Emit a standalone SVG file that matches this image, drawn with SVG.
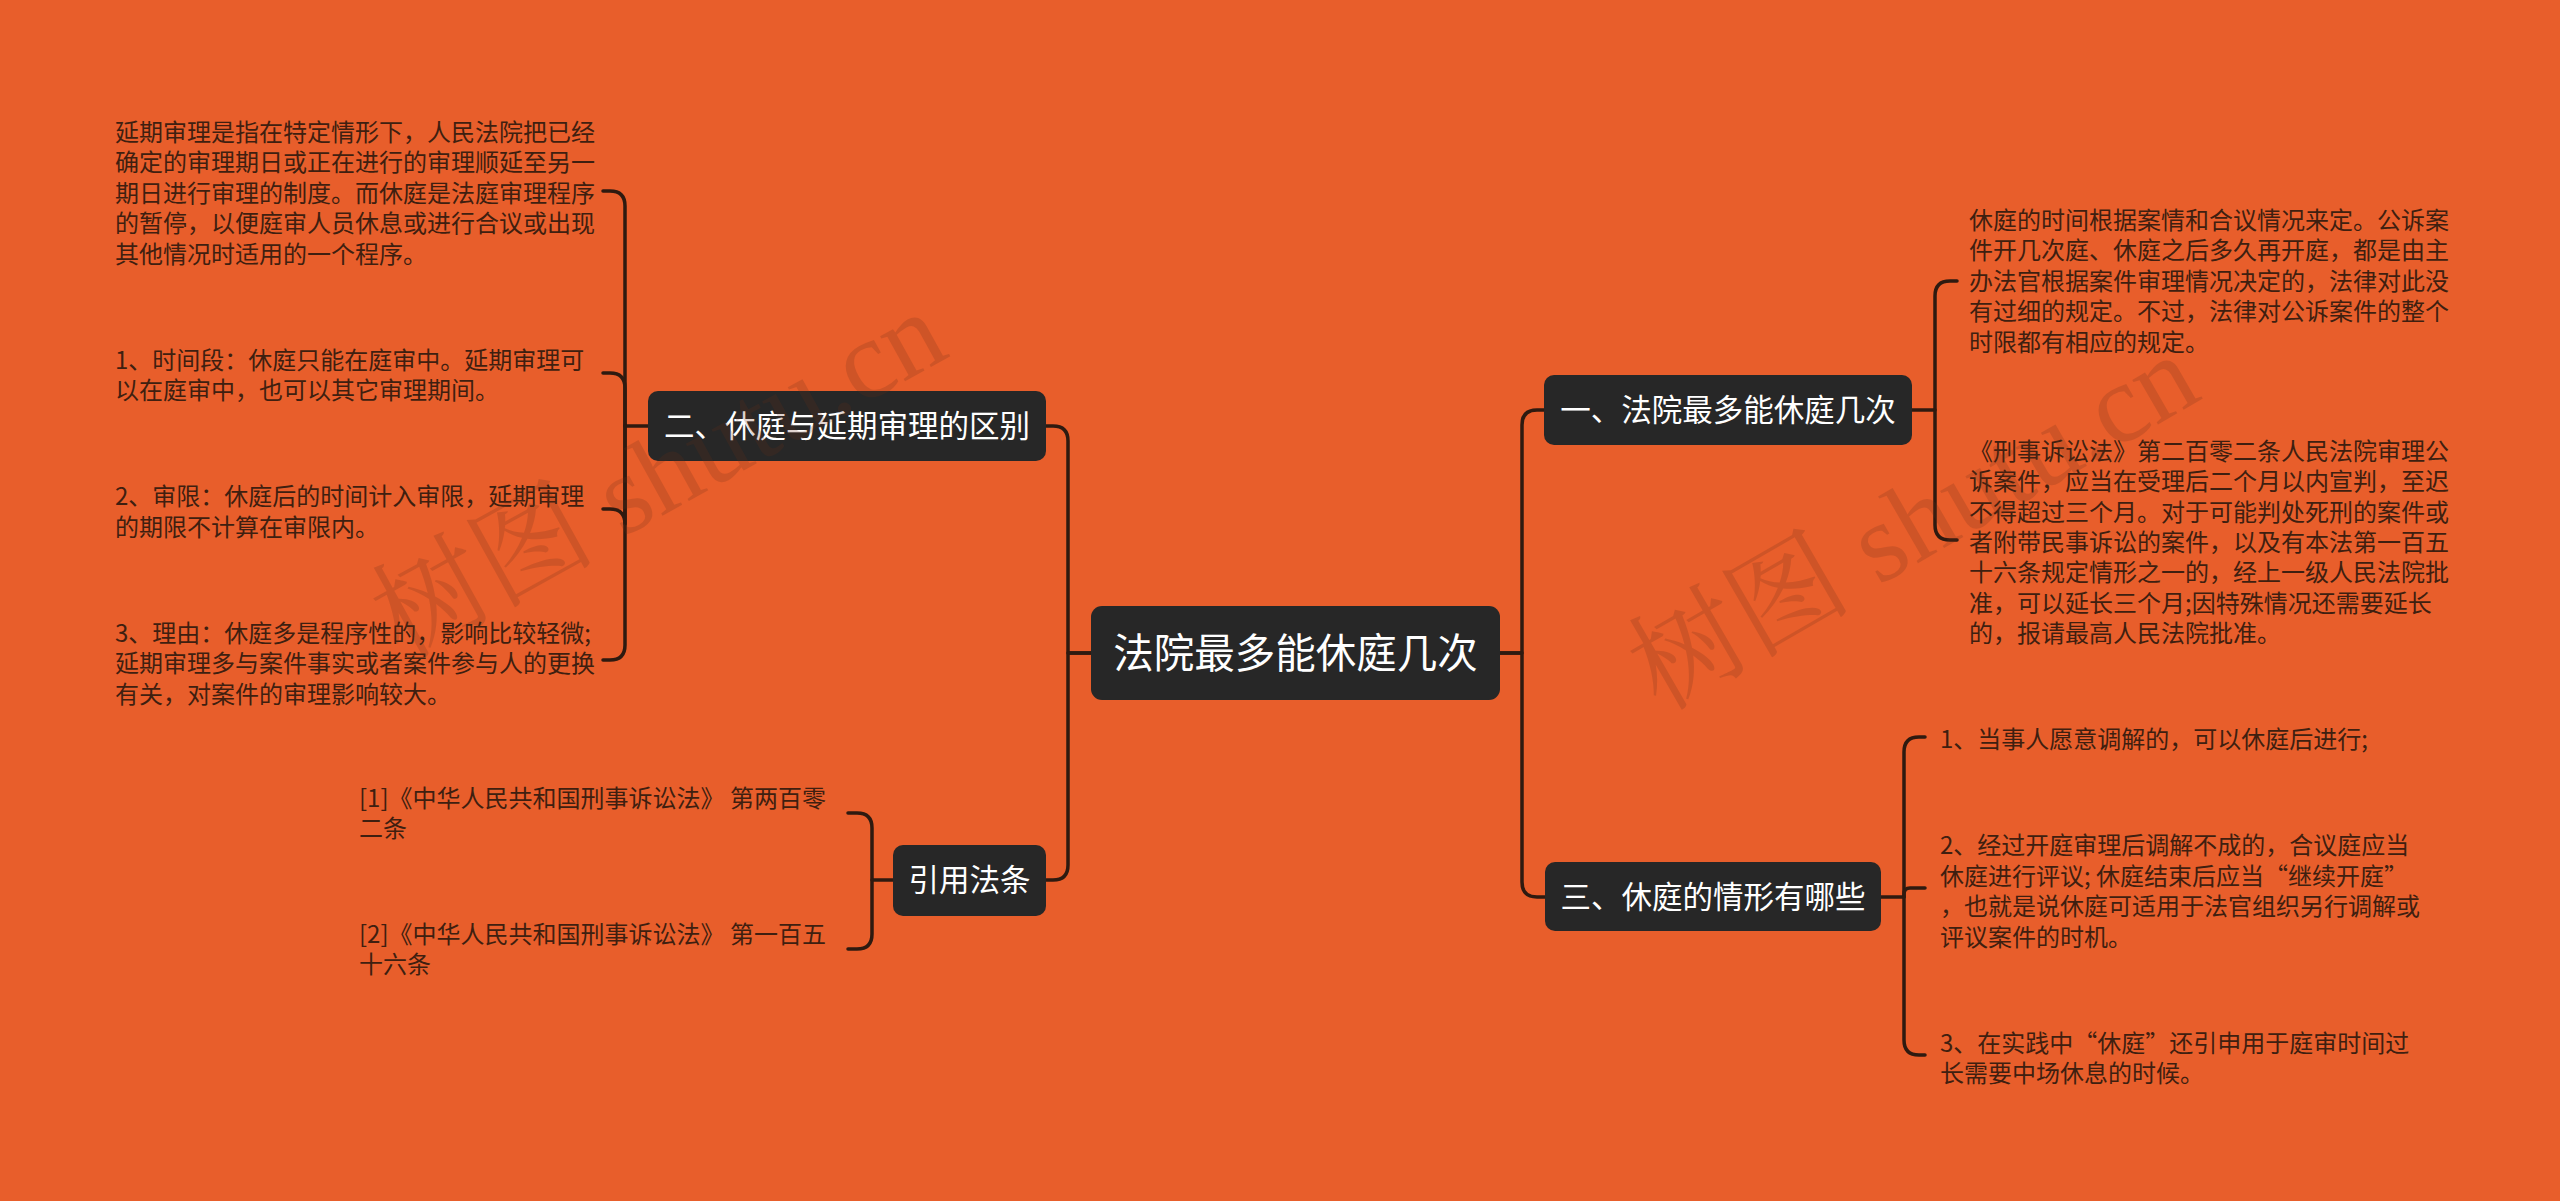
<svg xmlns="http://www.w3.org/2000/svg" width="2560" height="1201" viewBox="0 0 2560 1201">
<style>
.bg{fill:#E85E2B}
.box{fill:#272727}
.nt{fill:#ffffff;font-family:"Noto Sans CJK SC","Noto Sans",sans-serif;text-anchor:middle}
.sub{font-size:30.5px}
.main{font-size:40.5px}
.leaf{fill:#3f1f10;font-family:"Noto Sans CJK SC","Noto Sans",sans-serif;font-size:24px}
.con{fill:none;stroke:#2e1a10;stroke-width:3.5;stroke-linecap:round;stroke-linejoin:round}
.wm{fill:#6a2e18;opacity:0.2;font-family:"Liberation Serif","Noto Serif CJK SC","Noto Sans CJK SC",serif;font-size:112px}
</style>
<rect class="bg" x="0" y="0" width="2560" height="1201"/>

<g id="connectors">
<path class="con" d="M1091 653 H1068 V441 Q1068 426 1053 426 H1046"/>
<path class="con" d="M1091 653 H1068 V865 Q1068 880 1053 880 H1046"/>
<path class="con" d="M1500 653 H1522 V425 Q1522 410 1537 410 H1544"/>
<path class="con" d="M1500 653 H1522 V882 Q1522 897 1537 897 H1545"/>
<path class="con" d="M1912 410 H1935 V296 Q1935 281 1950 281 H1957"/>
<path class="con" d="M1935 410 V525 Q1935 540 1950 540 H1957"/>
<path class="con" d="M1881 897 H1904 V752 Q1904 737 1919 737 H1925"/>
<path class="con" d="M1904 897 V894 Q1904 888 1910 888 H1925"/>
<path class="con" d="M1904 897 V1040 Q1904 1055 1919 1055 H1925"/>
<path class="con" d="M648 426 H625 V206 Q625 191 610 191 H603"/>
<path class="con" d="M625 426 V388 Q625 373 610 373 H603"/>
<path class="con" d="M625 426 V524 Q625 509 610 509 H603"/>
<path class="con" d="M625 426 V645 Q625 660 610 660 H603"/>
<path class="con" d="M893 880 H872 V828 Q872 813 857 813 H848"/>
<path class="con" d="M872 880 V934 Q872 949 857 949 H848"/>
</g>

<g id="node-center">
<rect class="box" x="1091" y="606" width="409" height="94" rx="11"/>
<text class="nt main" x="1295.5" y="667.5">法院最多能休庭几次</text>
</g>

<g id="node-1">
<rect class="box" x="1544" y="375" width="368" height="70" rx="10"/>
<text class="nt sub" x="1728" y="421">一、法院最多能休庭几次</text>
</g>

<g id="node-2">
<rect class="box" x="648" y="391" width="398" height="70" rx="10"/>
<text class="nt sub" x="847" y="437">二、休庭与延期审理的区别</text>
</g>

<g id="node-3">
<rect class="box" x="1545" y="862" width="336" height="69" rx="10"/>
<text class="nt sub" x="1713" y="908">三、休庭的情形有哪些</text>
</g>

<g id="node-cite">
<rect class="box" x="893" y="845" width="153" height="71" rx="10"/>
<text class="nt sub" x="969.5" y="891">引用法条</text>
</g>

<g id="leaf-l1">
<text class="leaf" x="115" y="140.5">延期审理是指在特定情形下，人民法院把已经</text>
<text class="leaf" x="115" y="171">确定的审理期日或正在进行的审理顺延至另一</text>
<text class="leaf" x="115" y="201.5">期日进行审理的制度。而休庭是法庭审理程序</text>
<text class="leaf" x="115" y="232">的暂停，以便庭审人员休息或进行合议或出现</text>
<text class="leaf" x="115" y="262.5">其他情况时适用的一个程序。</text>
</g>
<g id="leaf-l2">
<text class="leaf" x="115" y="368.5">1、时间段：休庭只能在庭审中。延期审理可</text>
<text class="leaf" x="115" y="399">以在庭审中，也可以其它审理期间。</text>
</g>
<g id="leaf-l3">
<text class="leaf" x="115" y="505">2、审限：休庭后的时间计入审限，延期审理</text>
<text class="leaf" x="115" y="535.5">的期限不计算在审限内。</text>
</g>
<g id="leaf-l4">
<text class="leaf" x="115" y="641.5">3、理由：休庭多是程序性的，影响比较轻微;</text>
<text class="leaf" x="115" y="672">延期审理多与案件事实或者案件参与人的更换</text>
<text class="leaf" x="115" y="702.5">有关，对案件的审理影响较大。</text>
</g>

<g id="leaf-c1">
<text class="leaf" x="359" y="806.5">[1]《中华人民共和国刑事诉讼法》 第两百零</text>
<text class="leaf" x="359" y="837">二条</text>
</g>
<g id="leaf-c2">
<text class="leaf" x="359" y="942.5">[2]《中华人民共和国刑事诉讼法》 第一百五</text>
<text class="leaf" x="359" y="973">十六条</text>
</g>

<g id="leaf-r1">
<text class="leaf" x="1969" y="228.5">休庭的时间根据案情和合议情况来定。公诉案</text>
<text class="leaf" x="1969" y="259">件开几次庭、休庭之后多久再开庭，都是由主</text>
<text class="leaf" x="1969" y="289.5">办法官根据案件审理情况决定的，法律对此没</text>
<text class="leaf" x="1969" y="320">有过细的规定。不过，法律对公诉案件的整个</text>
<text class="leaf" x="1969" y="350.5">时限都有相应的规定。</text>
</g>
<g id="leaf-r2">
<text class="leaf" x="1969" y="460">《刑事诉讼法》第二百零二条人民法院审理公</text>
<text class="leaf" x="1969" y="490.3">诉案件，应当在受理后二个月以内宣判，至迟</text>
<text class="leaf" x="1969" y="520.6">不得超过三个月。对于可能判处死刑的案件或</text>
<text class="leaf" x="1969" y="550.9">者附带民事诉讼的案件，以及有本法第一百五</text>
<text class="leaf" x="1969" y="581.2">十六条规定情形之一的，经上一级人民法院批</text>
<text class="leaf" x="1969" y="611.5">准，可以延长三个月;因特殊情况还需要延长</text>
<text class="leaf" x="1969" y="641.8">的，报请最高人民法院批准。</text>
</g>

<g id="leaf-r3">
<text class="leaf" x="1940" y="747.5">1、当事人愿意调解的，可以休庭后进行;</text>
</g>
<g id="leaf-r4">
<text class="leaf" x="1940" y="854">2、经过开庭审理后调解不成的，合议庭应当</text>
<text class="leaf" x="1940" y="884.5">休庭进行评议; 休庭结束后应当“继续开庭”</text>
<text class="leaf" x="1940" y="915">，也就是说休庭可适用于法官组织另行调解或</text>
<text class="leaf" x="1940" y="945.5">评议案件的时机。</text>
</g>
<g id="leaf-r5">
<text class="leaf" x="1940" y="1051.5">3、在实践中“休庭”还引申用于庭审时间过</text>
<text class="leaf" x="1940" y="1081.5">长需要中场休息的时候。</text>
</g>

<g id="watermarks">
<text class="wm" transform="translate(402,660) rotate(-29)">树图 shutu.cn</text>
<text class="wm" transform="translate(1660,712) rotate(-30)">树图 shutu.cn</text>
</g>
</svg>
